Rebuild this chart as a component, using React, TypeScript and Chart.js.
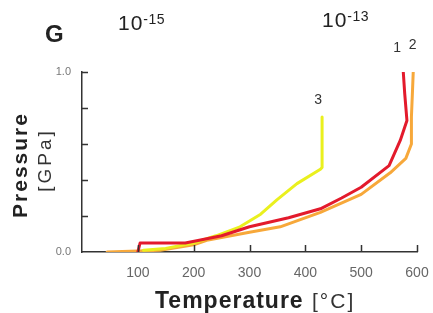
import React, { useEffect, useRef } from "react";
import { Chart, registerables } from "chart.js";

Chart.register(...registerables);

// Temperature [°C] / Pressure [GPa]
const curve1T = [100, 104, 140, 185, 210, 250, 300, 370, 427, 465, 500, 550, 570, 582, 578, 575];
const curve1P = [0.0, 0.05, 0.05, 0.05, 0.065, 0.09, 0.14, 0.19, 0.24, 0.3, 0.36, 0.48, 0.62, 0.73, 0.88, 1.02];
const curve2T = [45, 100, 140, 200, 226, 300, 355, 427, 500, 552, 580, 590, 590, 592, 594];
const curve2P = [0.0, 0.005, 0.01, 0.04, 0.067, 0.11, 0.14, 0.22, 0.32, 0.44, 0.52, 0.6, 0.75, 0.9, 1.06];
const curve3T = [110, 150, 200, 240, 283, 320, 349, 385, 427, 430, 430];
const curve3P = [0.01, 0.02, 0.05, 0.09, 0.14, 0.21, 0.29, 0.38, 0.46, 0.47, 0.75];

const seriesLabels = ["1", "2", "3"];
const seriesColors = ["#e31a2c", "#f7a83a", "#eaf01e"];
const xTicks = [100, 200, 300, 400, 500, 600];
const yTickLabels = ["0.0", "1.0"];

const FONT = "'Liberation Sans', Arial, Helvetica, sans-serif";

function pts(t: number[], p: number[]) {
  return t.map((x, i) => ({ x, y: p[i] }));
}

const decorPlugin = {
  id: "decor",
  afterDraw(chart: any) {
    const ctx = chart.ctx as CanvasRenderingContext2D;
    const xs = chart.scales.x;
    const ys = chart.scales.y;
    const area = chart.chartArea;
    ctx.save();
    // inward tick marks
    ctx.strokeStyle = "#333";
    ctx.lineWidth = 1.5;
    ctx.beginPath();
    ys.ticks.forEach((t: any) => {
      if (t.value === 0) return;
      const py = Math.round(ys.getPixelForValue(t.value)) + 0.5;
      ctx.moveTo(area.left, py);
      ctx.lineTo(area.left + 6, py);
    });
    xs.ticks.forEach((t: any) => {
      if (t.value === 0) return;
      const px = Math.round(xs.getPixelForValue(t.value)) + 0.5;
      ctx.moveTo(px, area.bottom);
      ctx.lineTo(px, area.bottom - 7);
    });
    ctx.stroke();

    const anyCtx = ctx as any;
    // series labels near line ends
    const offsets = [[-6, -20], [-1, -16], [-4, -17]];
    ctx.fillStyle = "#333";
    ctx.font = `14px ${FONT}`;
    ctx.textAlign = "center";
    ctx.textBaseline = "middle";
    chart.data.datasets.forEach((ds: any, i: number) => {
      const last = ds.data[ds.data.length - 1];
      const px = xs.getPixelForValue(last.x);
      const py = ys.getPixelForValue(last.y);
      ctx.fillText(seriesLabels[i], px + offsets[i][0], py + offsets[i][1]);
    });

    // panel letter and top annotations
    ctx.textAlign = "left";
    ctx.textBaseline = "alphabetic";
    ctx.fillStyle = "#222";
    ctx.font = `bold 24px ${FONT}`;
    ctx.fillText("G", 45, 42);

    const sup = (base: string, exp: string, x: number, y: number) => {
      ctx.font = `21px ${FONT}`;
      anyCtx.letterSpacing = "1px";
      ctx.fillText(base, x, y);
      const w = ctx.measureText(base).width;
      ctx.font = `14px ${FONT}`;
      anyCtx.letterSpacing = "0.5px";
      ctx.fillText(exp, x + w, y - 6);
      anyCtx.letterSpacing = "0px";
    };
    sup("10", "-15", 118, 30);
    sup("10", "-13", 322, 27);

    // y title
    ctx.save();
    ctx.translate(27, 165);
    ctx.rotate(-Math.PI / 2);
    ctx.textAlign = "center";
    ctx.font = `bold 21px ${FONT}`;
    anyCtx.letterSpacing = "2px";
    ctx.fillText("Pressure", 0, 0);
    ctx.restore();
    ctx.save();
    ctx.translate(51, 160);
    ctx.rotate(-Math.PI / 2);
    ctx.textAlign = "center";
    ctx.fillStyle = "#333";
    ctx.font = `19px ${FONT}`;
    anyCtx.letterSpacing = "3px";
    ctx.fillText("[GPa]", 0, 0);
    ctx.restore();

    // x title
    ctx.textAlign = "left";
    ctx.font = `bold 23px ${FONT}`;
    anyCtx.letterSpacing = "1px";
    ctx.fillText("Temperature", 155, 308);
    ctx.font = `21px ${FONT}`;
    ctx.fillStyle = "#333";
    anyCtx.letterSpacing = "2px";
    ctx.fillText("[°C]", 312, 308);
    anyCtx.letterSpacing = "0px";
    ctx.restore();
  },
};

export default function App() {
  const ref = useRef<HTMLCanvasElement | null>(null);
  useEffect(() => {
    if (!ref.current) return;
    const data = [pts(curve1T, curve1P), pts(curve2T, curve2P), pts(curve3T, curve3P)];
    const chart = new Chart(ref.current, {
      type: "line",
      data: {
        datasets: data.map((d, i) => ({
          label: seriesLabels[i],
          data: d,
          borderColor: seriesColors[i],
          backgroundColor: seriesColors[i],
          borderWidth: 3,
          pointRadius: 0,
          tension: 0,
          fill: false,
          order: [0, 2, 1][i],
          borderJoinStyle: "round" as const,
          borderCapStyle: "round" as const,
        })),
      },
      options: {
        animation: false,
        responsive: false,
        devicePixelRatio: 1,
        layout: { padding: { left: 0, top: 72, right: 16, bottom: 0 } },
        plugins: { legend: { display: false }, tooltip: { enabled: false }, title: { display: false } },
        scales: {
          x: {
            type: "linear",
            min: 0,
            max: 600,
            afterFit: (s: any) => { s.height = 61; s.paddingLeft = 0; s.paddingRight = 0; },
            afterBuildTicks: (s: any) => { s.ticks = [0, ...xTicks].map((v) => ({ value: v })); },
            ticks: {
              padding: 13,
              color: "#666",
              font: { family: FONT, size: 14 },
              callback: (v: any) => (xTicks.includes(Number(v)) ? String(v) : ""),
              maxRotation: 0,
              autoSkip: false,
            },
            grid: { display: false, drawTicks: false },
            border: { display: true, color: "#333", width: 1.5 },
          },
          y: {
            type: "linear",
            min: 0,
            max: 1,
            afterFit: (s: any) => { s.width = 82; s.paddingTop = 0; s.paddingBottom = 0; },
            ticks: {
              stepSize: 0.2,
              padding: 11,
              color: "#777",
              font: { family: FONT, size: 11 },
              callback: (v: any) => {
                const n = Number(v);
                if (Math.abs(n) < 1e-9) return yTickLabels[0];
                if (Math.abs(n - 1) < 1e-9) return yTickLabels[1];
                return "";
              },
              autoSkip: false,
            },
            grid: { display: false, drawTicks: false },
            border: { display: true, color: "#333", width: 1.5 },
          },
        },
      },
      plugins: [decorPlugin],
    });
    return () => chart.destroy();
  }, []);
  return (
    <div style={{ position: "fixed", left: 0, top: 0, width: 433, height: 313, background: "#fff" }}>
      <canvas ref={ref} width={433} height={313} style={{ display: "block" }} />
    </div>
  );
}
